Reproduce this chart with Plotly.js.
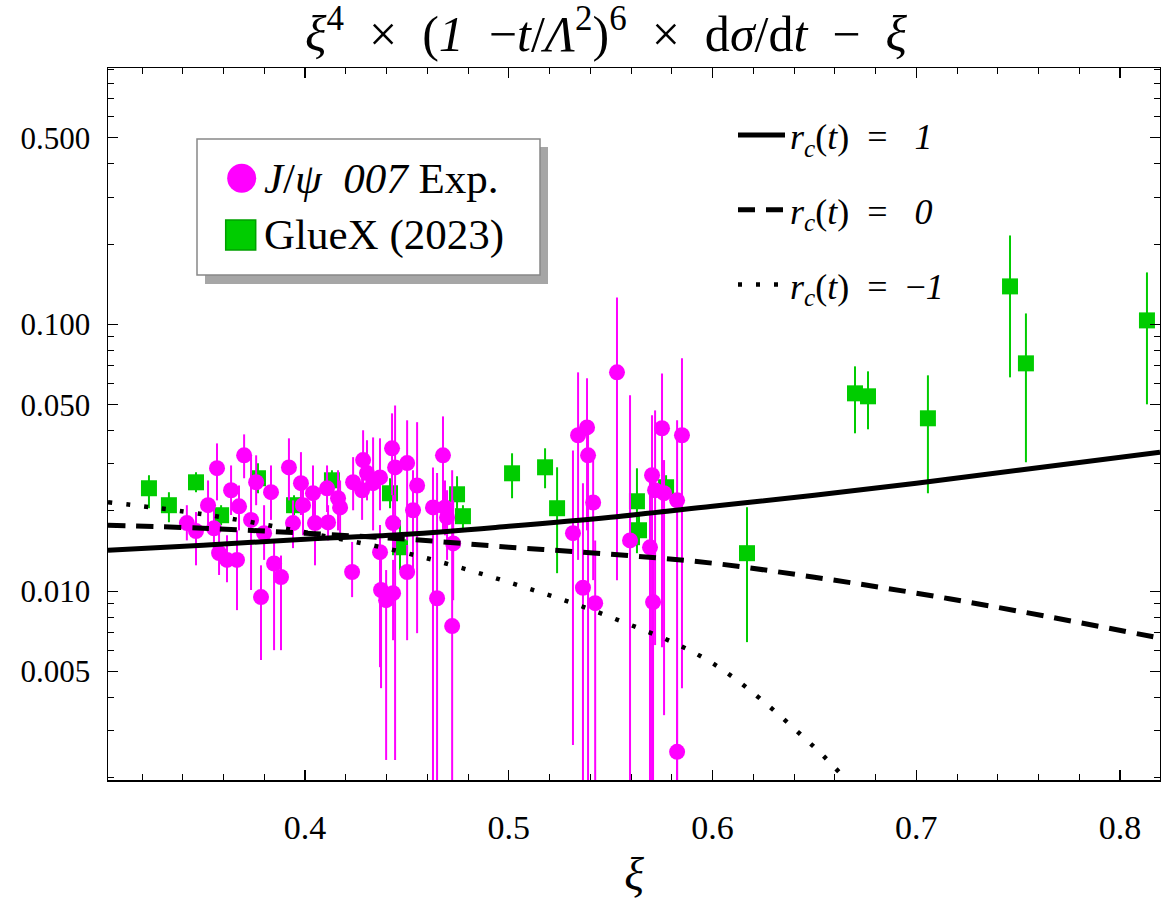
<!DOCTYPE html>
<html>
<head>
<meta charset="utf-8">
<script src="https://cdn.plot.ly/plotly-3.0.1.min.js"></script>
<style>html,body{margin:0;padding:0;background:#fff}#chart{width:1161px;height:909px}</style>
</head>
<body>
<div id="chart"></div>
<script>
// ---- J/psi 007 experiment (xi, value, upper end of bar, lower end of bar; 0 = bar runs below the axis) ----
const xiJpsi = [0.342,0.3465,0.3524,0.3568,0.3553,0.3578,0.3617,0.3637,0.3666,0.3676,0.3701,0.3735,0.3760,0.3784,0.3799,0.3833,0.3848,0.3882,0.3921,0.3941,0.3980,0.3990,0.4039,0.4049,0.4108,0.4113,0.4162,0.4172,0.4231,0.4236,0.4285,0.4304,0.4334,0.4368,0.4280,0.4427,0.4442,0.4501,0.4550,0.4530,0.4432,0.4368,0.4373,0.4398,0.4432,0.4501,0.4628,0.4677,0.4697,0.4648,0.4722,0.4727,0.4687,0.5315,0.5340,0.5384,0.5389,0.5414,0.5364,0.5424,0.5531,0.5595,0.5703,0.5718,0.5693,0.5708,0.5752,0.5762,0.5826,0.5850,0.5826];
const yJpsi = [0.0180,0.0168,0.0210,0.0289,0.0172,0.0139,0.0131,0.0239,0.0131,0.0208,0.0323,0.0185,0.0256,0.0095,0.0165,0.0235,0.0127,0.0113,0.0291,0.0180,0.0254,0.0210,0.0233,0.0180,0.0243,0.0181,0.0223,0.0206,0.0118,0.0256,0.0310,0.0277,0.0254,0.0267,0.0239,0.0343,0.0291,0.0302,0.0249,0.0201,0.0180,0.0140,0.0101,0.00925,0.00983,0.0118,0.0206,0.0323,0.0189,0.00941,0.00740,0.0151,0.0206,0.0165,0.0384,0.0411,0.0323,0.0215,0.0103,0.00902,0.0661,0.0155,0.0272,0.0239,0.0146,0.00910,0.0408,0.0233,0.0219,0.0384,0.00250];
const yJpsiHi = [0.0210,0.0198,0.0260,0.0358,0.0210,0.0169,0.0162,0.0296,0.0169,0.0249,0.0387,0.0323,0.0323,0.0125,0.0210,0.0296,0.0155,0.0136,0.0374,0.0219,0.0332,0.0265,0.0296,0.0219,0.0296,0.0210,0.0284,0.0260,0.0153,0.0318,0.0401,0.0368,0.0377,0.0374,0.0310,0.0464,0.0497,0.0437,0.0430,0.0284,0.0229,0.0177,0.0136,0.0120,0.0131,0.0149,0.0291,0.0452,0.0239,0.0277,0.0284,0.0219,0.0260,0.0337,0.0661,0.0628,0.0437,0.0310,0.0254,0.0155,0.126,0.0542,0.0456,0.0476,0.0260,0.0155,0.0655,0.0310,0.0437,0.0746,0.00426];
const yJpsiLo = [0.0155,0.0125,0.0169,0.0219,0.0140,0.0115,0.0108,0.0193,0.00849,0.0169,0.0265,0.0101,0.0210,0.00552,0.0131,0.0185,0.00601,0.00601,0.0219,0.0145,0.0193,0.0162,0.0185,0.0125,0.0198,0.0155,0.0169,0.0155,0.0095,0.0201,0.0233,0.0219,0.0169,0.0201,0.0185,0.0229,0.00233,0.0155,0.00696,0.0115,0.0142,0.00519,0.00433,0.00233,0.00655,0.00655,0,0.0169,0.0131,0,0,0.00925,0.0162,0.00265,0.0131,0.0169,0,0.0110,0,0,0.0110,0,0,0.00628,0,0,0.00617,0.00343,0,0.00433,0];

// ---- GlueX (2023) ----
const xiGluex = [0.3234,0.3332,0.3465,0.3588,0.3769,0.3946,0.4132,0.4417,0.4466,0.4746,0.4775,0.5016,0.5178,0.5237,0.5629,0.5639,0.5772,0.6169,0.6699,0.6763,0.7057,0.7460,0.7538,0.8132];
const yGluex = [0.02431,0.02100,0.02559,0.01926,0.02650,0.02100,0.02604,0.02328,0.01461,0.02308,0.01910,0.02766,0.02913,0.02046,0.02173,0.01692,0.02452,0.01388,0.05515,0.05375,0.04446,0.1388,0.07144,0.1035];
const yGluexHi = [0.02720,0.02349,0.02791,0.02100,0.03016,0.02288,0.02839,0.02650,0.01845,0.02696,0.02100,0.03287,0.03432,0.02913,0.02888,0.01926,0.02720,0.02064,0.06962,0.06668,0.06442,0.2154,0.1099,0.1566];
const yGluexLo = [0.02046,0.01813,0.02349,0.01767,0.02328,0.01926,0.02349,0.02046,0.01198,0.02011,0.01692,0.02230,0.02431,0.01168,0.01388,0.01487,0.02192,0.006442,0.03906,0.04043,0.02328,0.06331,0.03042,0.05016];

// ---- model curves ----
const xiCurve = [0.3033,0.35,0.40,0.45,0.50,0.55,0.60,0.65,0.70,0.75,0.8196];
const yRcPlus1 = [0.01424,0.01487,0.01566,0.01635,0.01751,0.01893,0.02082,0.02289,0.02538,0.02839,0.03316];
const yRcZero = [0.01767,0.01722,0.01649,0.01566,0.01462,0.01376,0.01273,0.01128,0.00983,0.00842,0.00667];
const xiCurveM1 = [0.3033,0.35,0.40,0.45,0.50,0.55,0.60,0.65,0.67];
const yRcMinus1 = [0.02154,0.01943,0.01663,0.01388,0.0108,0.00799,0.00537,0.0026,0.0018];

// ---- ticks ----
const xTickVals = [0.4,0.5,0.6,0.7,0.8];
const xTickText = ['0.4','0.5','0.6','0.7','0.8'];
const xMinorVals = [0.32,0.34,0.36,0.38,0.42,0.44,0.46,0.48,0.52,0.54,0.56,0.58,0.62,0.64,0.66,0.68,0.72,0.74,0.76,0.78,0.82];
const yTickVals = [0.005,0.01,0.05,0.1,0.5];
const yTickText = ['0.005','0.010','0.050','0.100','0.500'];
const yMinorVals = [0.002,0.003,0.004,0.006,0.007,0.008,0.009,0.02,0.03,0.04,0.06,0.07,0.08,0.09,0.2,0.3,0.4,0.6,0.7,0.8,0.9];

const FONT = 'Liberation Serif, Times New Roman, serif';
const plusOf = (v, hi) => v.map((y, i) => hi[i] - y);
const minusOf = (v, lo) => v.map((y, i) => y - lo[i]);

const traces = [
  {
    type: 'scatter', mode: 'markers', name: 'GlueX (2023)', showlegend: false,
    x: xiGluex, y: yGluex,
    marker: {symbol: 'square', size: 16, color: '#00cc00', line: {width: 0}},
    error_y: {type: 'data', symmetric: false, array: plusOf(yGluex, yGluexHi), arrayminus: minusOf(yGluex, yGluexLo), color: '#00cc00', thickness: 2, width: 0}
  },
  {
    type: 'scatter', mode: 'markers', name: 'J/ψ 007 Exp.', showlegend: false,
    x: xiJpsi, y: yJpsi,
    marker: {symbol: 'circle', size: 16, color: '#ff00ff', line: {width: 0}},
    error_y: {type: 'data', symmetric: false, array: plusOf(yJpsi, yJpsiHi), arrayminus: minusOf(yJpsi, yJpsiLo), color: '#ff00ff', thickness: 2, width: 0}
  },
  {
    type: 'scatter', mode: 'lines', name: '<i>r</i><sub><i>c</i></sub>(<i>t</i>)  =   <i>1</i>', legendgroup: 'a',
    x: xiCurve, y: yRcPlus1, line: {color: '#000', width: 5, shape: 'spline'}
  },
  {
    type: 'scatter', mode: 'lines', name: '<i>r</i><sub><i>c</i></sub>(<i>t</i>)  =   <i>0</i>', legendgroup: 'b',
    x: xiCurve, y: yRcZero, line: {color: '#000', width: 5, dash: '17px,11px', shape: 'spline'}
  },
  {
    type: 'scatter', mode: 'lines', name: '<i>r</i><sub><i>c</i></sub>(<i>t</i>)  =  −<i>1</i>', legendgroup: 'c',
    x: xiCurveM1, y: yRcMinus1, line: {color: '#000', width: 4.5, dash: '4px,14px', shape: 'spline'}
  }
];

// legend box for the data sets (pixel geometry converted to paper units of the plot area)
const L = 108, W = 1052, B = 780, H = 712;
const px = v => (v - L) / W;
const py = v => (B - v) / H;

const layout = {
  width: 1161, height: 909,
  margin: {l: 108, r: 1, t: 68, b: 129},
  paper_bgcolor: '#fff', plot_bgcolor: '#fff',
  font: {family: FONT, color: '#000'},
  title: {
    text: '<i>ξ</i><sup>4</sup>  ×  (<i>1</i>  −<i>t</i>/<i>Λ</i><sup>2</sup>)<sup>6</sup>  ×  d<i>σ</i>/d<i>t</i>  −  <i>ξ</i>',
    font: {family: FONT, size: 50, color: '#000'},
    x: 606 / 1161, xref: 'container', xanchor: 'center',
    y: 1 - 33 / 909, yref: 'container', yanchor: 'middle'
  },
  xaxis: {
    range: [0.3033, 0.8196], showgrid: false, zeroline: false,
    showline: true, linecolor: '#000', linewidth: 1.5, mirror: 'allticks',
    ticks: 'inside', ticklen: 10, tickwidth: 1.2, tickcolor: '#000',
    tickmode: 'array', tickvals: xTickVals, ticktext: xTickText,
    tickfont: {family: FONT, size: 34, color: '#000'}, ticklabelstandoff: 17,
    minor: {tickmode: 'array', tickvals: xMinorVals, ticks: 'inside', ticklen: 6, tickwidth: 1, tickcolor: '#000', showgrid: false},
    title: {text: '<i>ξ</i>', font: {family: FONT, size: 46, color: '#000'}, standoff: 12}
  },
  yaxis: {
    type: 'log', range: [Math.log10(0.00196), Math.log10(0.914)], showgrid: false, zeroline: false,
    showline: true, linecolor: '#000', linewidth: 1.5, mirror: 'allticks',
    ticks: 'inside', ticklen: 10, tickwidth: 1.2, tickcolor: '#000',
    tickmode: 'array', tickvals: yTickVals, ticktext: yTickText,
    tickfont: {family: FONT, size: 31, color: '#000'}, ticklabelstandoff: 10,
    minor: {tickmode: 'array', tickvals: yMinorVals, ticks: 'inside', ticklen: 6, tickwidth: 1, tickcolor: '#000', showgrid: false}
  },
  showlegend: true,
  legend: {
    x: px(733), xanchor: 'left', y: py(105), yanchor: 'top',
    bgcolor: 'rgba(0,0,0,0)', borderwidth: 0,
    font: {family: FONT, size: 36, color: '#000'},
    itemwidth: 47, tracegroupgap: 25, traceorder: 'grouped'
  },
  shapes: [
    {type: 'rect', xref: 'paper', yref: 'paper', x0: px(205), x1: px(548), y0: py(284), y1: py(147), fillcolor: '#a6a6a6', line: {width: 0}, layer: 'above'},
    {type: 'rect', xref: 'paper', yref: 'paper', x0: px(197), x1: px(540), y0: py(275), y1: py(139), fillcolor: '#ffffff', line: {color: '#888', width: 1.5}, layer: 'above'},
    {type: 'circle', xref: 'paper', yref: 'paper', xsizemode: 'pixel', ysizemode: 'pixel', xanchor: px(241.7), yanchor: py(178.3), x0: -14.5, x1: 14.5, y0: -14.5, y1: 14.5, fillcolor: '#ff00ff', line: {width: 0}, layer: 'above'},
    {type: 'rect', xref: 'paper', yref: 'paper', xsizemode: 'pixel', ysizemode: 'pixel', xanchor: px(240.7), yanchor: py(235), x0: -15, x1: 15, y0: -15, y1: 15, fillcolor: '#00cc00', line: {color: '#00a000', width: 1.5}, layer: 'above'}
  ],
  annotations: [
    {xref: 'paper', yref: 'paper', x: px(262), y: py(178.3), xanchor: 'left', yanchor: 'middle', showarrow: false,
     text: '<i>J</i>/<i>ψ</i>  <i>007</i> Exp.', font: {family: FONT, size: 43, color: '#000'}},
    {xref: 'paper', yref: 'paper', x: px(262), y: py(235), xanchor: 'left', yanchor: 'middle', showarrow: false,
     text: 'GlueX (2023)', font: {family: FONT, size: 43, color: '#000'}}
  ]
};

Plotly.newPlot('chart', traces, layout, {displayModeBar: false, staticPlot: true});
</script>
</body>
</html>
